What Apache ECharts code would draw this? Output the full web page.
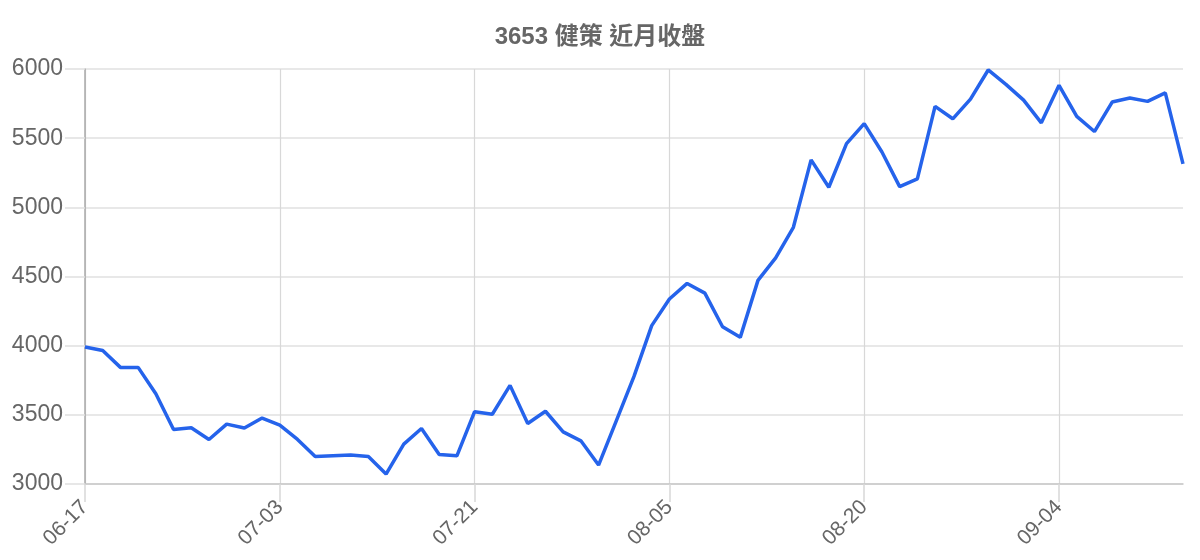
<!DOCTYPE html>
<html>
<head>
<meta charset="utf-8">
<script src="https://cdn.jsdelivr.net/npm/echarts@6/dist/echarts.min.js"></script>
<style>html,body{margin:0;padding:0;background:#fff}#c{width:1200px;height:560px}</style>
</head>
<body>
<div id="c"></div>
<script>
const titleText = '3653 健策 近月收盤';
const dates = [
  '06-17','06-18','06-19','06-20','06-23','06-24','06-25','06-26','06-27','06-30','07-01',
  '07-03','07-04','07-07','07-08','07-09','07-10','07-11','07-14','07-15','07-16','07-17',
  '07-21','07-22','07-23','07-24','07-25','07-28','07-29','07-30','07-31','08-01','08-04',
  '08-05','08-06','08-07','08-08','08-11','08-12','08-13','08-14','08-15','08-18','08-19',
  '08-20','08-21','08-22','08-25','08-26','08-27','08-28','08-29','09-01','09-02','09-03',
  '09-04','09-05','09-08','09-09','09-10','09-11','09-12','09-15'
];
const closes = [
  3990, 3965, 3843, 3843, 3652, 3394, 3407, 3322, 3433, 3405, 3477,
  3425, 3322, 3198, 3204, 3209, 3198, 3072, 3288, 3401, 3214, 3204,
  3523, 3504, 3713, 3437, 3526, 3377, 3312, 3137, 3456, 3778, 4145,
  4337, 4450, 4380, 4137, 4060, 4472, 4635, 4856, 5343, 5145, 5460,
  5605, 5400, 5150, 5206, 5730, 5640, 5782, 5993, 5889, 5775, 5611,
  5882, 5657, 5548, 5761, 5790, 5766, 5827, 5314
];
const yMin = 3000, yMax = 6000, yStep = 500;

const chart = echarts.init(document.getElementById('c'));
chart.setOption({
  animation: false,
  title: {
    text: titleText, left: 'center', top: 20,
    textStyle: { fontFamily: 'Liberation Sans, Arial, Noto Sans CJK TC', fontSize: 24, fontWeight: 'bold', color: '#666' }
  },
  grid: { left: 85, right: 17, top: 69, bottom: 76, containLabel: false },
  xAxis: {
    type: 'category', data: dates, boundaryGap: false,
    axisLine: { lineStyle: { color: '#c8c8c8', width: 1.5 } },
    axisTick: { show: true, interval: 10, length: 18, lineStyle: { color: '#d8d8d8', width: 1.5 } },
    axisLabel: { interval: 10, rotate: 45, margin: 20, fontSize: 21, color: '#666', fontFamily: 'Liberation Sans, Arial' },
    splitLine: { show: true, interval: 10, lineStyle: { color: '#d8d8d8', width: 1.2 } }
  },
  yAxis: {
    type: 'value', min: yMin, max: yMax, interval: yStep,
    axisLine: { show: true, lineStyle: { color: '#aaa', width: 1.5 } },
    axisTick: { show: true, length: 20, lineStyle: { color: '#e0e0e0', width: 1.5 } },
    axisLabel: { margin: 22, fontSize: 23, color: '#666', fontFamily: 'Liberation Sans, Arial',
      formatter: function (v) { return String(v); } },
    splitLine: { show: true, lineStyle: { color: '#e0e0e0', width: 1.5 } }
  },
  series: [{
    type: 'line', data: closes, symbol: 'none',
    lineStyle: { color: '#2563eb', width: 3.5 }
  }]
});
</script>
</body>
</html>
